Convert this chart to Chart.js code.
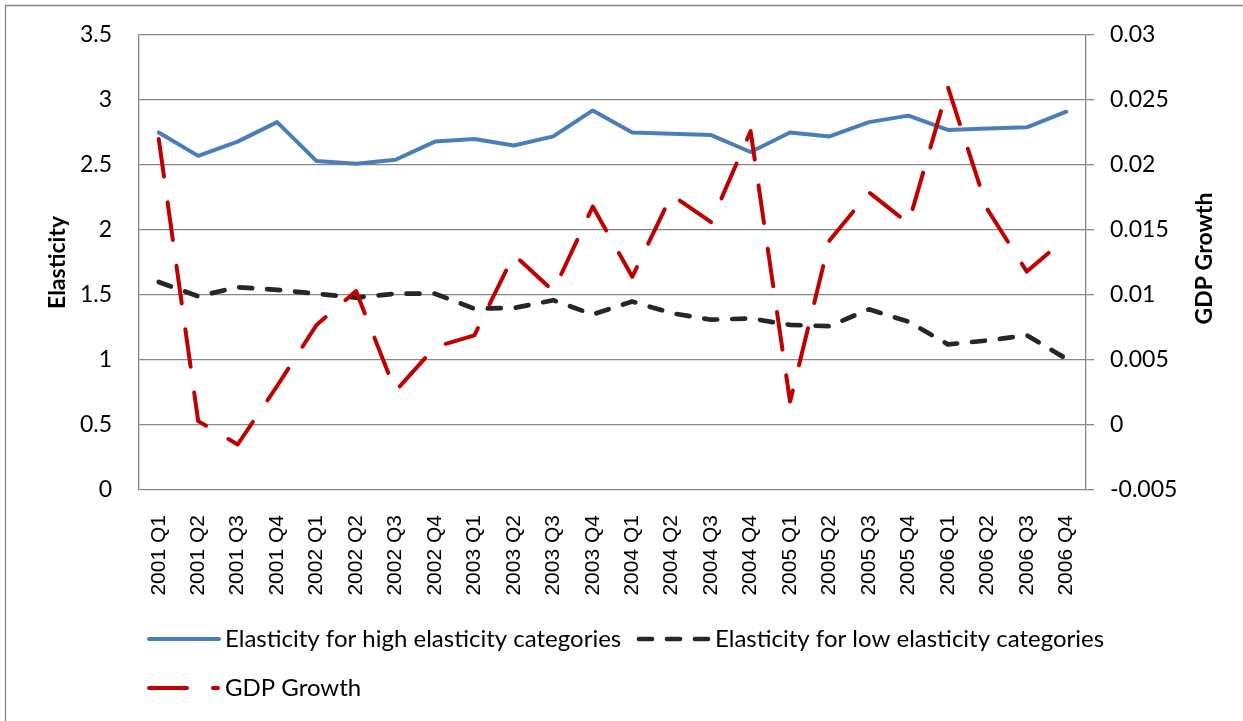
<!DOCTYPE html>
<html>
<head>
<meta charset="utf-8">
<script src="https://cdn.jsdelivr.net/npm/chart.js@4.4.0/dist/chart.umd.min.js"></script>
<style>
  html, body { margin: 0; padding: 0; background: #ffffff; overflow: hidden; }
  canvas { display: block; }
</style>
</head>
<body>
<canvas id="chart" width="1243" height="721"></canvas>
<script>
// Quarterly categories
const quarters = [
  '2001 Q1', '2001 Q2', '2001 Q3', '2001 Q4',
  '2002 Q1', '2002 Q2', '2002 Q3', '2002 Q4',
  '2003 Q1', '2003 Q2', '2003 Q3', '2003 Q4',
  '2004 Q1', '2004 Q2', '2004 Q3', '2004 Q4',
  '2005 Q1', '2005 Q2', '2005 Q3', '2005 Q4',
  '2006 Q1', '2006 Q2', '2006 Q3', '2006 Q4'
];

// Elasticity for high elasticity categories (left axis)
const highElasticity = [
  2.75, 2.57, 2.68, 2.83, 2.53, 2.51, 2.54, 2.68,
  2.70, 2.65, 2.72, 2.92, 2.75, 2.74, 2.73, 2.60,
  2.75, 2.72, 2.83, 2.88, 2.77, 2.78, 2.79, 2.91
];

// Elasticity for low elasticity categories (left axis)
const lowElasticity = [
  1.60, 1.49, 1.56, 1.54, 1.51, 1.48, 1.51, 1.51,
  1.395, 1.40, 1.46, 1.35, 1.45, 1.36, 1.31, 1.32,
  1.27, 1.26, 1.39, 1.295, 1.12, 1.15, 1.19, 1.01
];

// Quarterly GDP growth (right axis)
const gdpGrowth = [
  0.0220, 0.0003, -0.0015, 0.0030, 0.0077, 0.0103, 0.0026, 0.0060,
  0.0069, 0.0131, 0.0103, 0.0168, 0.0114, 0.0177, 0.0156, 0.0226,
  0.0018, 0.0142, 0.0179, 0.0155, 0.0260, 0.0166, 0.0118, 0.0144
];

// Axis tick values
const elasticityTicks = [0, 0.5, 1, 1.5, 2, 2.5, 3, 3.5];
const gdpTicks = [-0.005, 0, 0.005, 0.01, 0.015, 0.02, 0.025, 0.03];

// Series names
const seriesNames = [
  'Elasticity for high elasticity categories',
  'Elasticity for low elasticity categories',
  'GDP Growth'
];

const GRID = '#868686';
const BLUE = '#4A7EBB';
const DARK = '#262626';
const RED = '#C00000';
const TICK_FONT = { family: 'Lato', size: 23 };
const LEGEND_FONT = '24px Lato';

// Outer frame, right-hand axis title and the legend block
const decorations = {
  id: 'decorations',
  beforeDraw(chart) {
    const ctx = chart.ctx;
    ctx.save();
    ctx.strokeStyle = GRID;
    ctx.lineWidth = 1.3;
    ctx.beginPath();
    ctx.moveTo(5.5, 721);
    ctx.lineTo(5.5, 5.5);
    ctx.lineTo(1243, 5.5);
    ctx.stroke();
    ctx.restore();
  },
  afterDraw(chart) {
    const ctx = chart.ctx;
    const area = chart.chartArea;

    // right axis title, reading upward
    ctx.save();
    ctx.fillStyle = '#000';
    ctx.font = 'bold 23px Lato';
    ctx.textAlign = 'center';
    ctx.textBaseline = 'middle';
    ctx.translate(1205, (area.top + area.bottom) / 2 - 4);
    ctx.rotate(-Math.PI / 2);
    ctx.fillText('GDP Growth', 0, 0);
    ctx.restore();

    // legend entries
    const ds = chart.data.datasets;
    const items = [
      { ds: ds[0], x0: 149, x1: 219, y: 639, tx: 225 },
      { ds: ds[1], x0: 639, x1: 708, y: 639, tx: 715 },
      { ds: ds[2], x0: 149, x1: 218, y: 688, tx: 225 }
    ];
    items.forEach(it => {
      ctx.save();
      ctx.strokeStyle = it.ds.borderColor;
      ctx.lineWidth = it.ds.borderWidth;
      ctx.lineCap = 'round';
      ctx.setLineDash(it.ds.borderDash || []);
      ctx.beginPath();
      ctx.moveTo(it.x0, it.y);
      ctx.lineTo(it.x1, it.y);
      ctx.stroke();
      ctx.setLineDash([]);
      ctx.fillStyle = '#000';
      ctx.font = LEGEND_FONT;
      ctx.textAlign = 'left';
      ctx.textBaseline = 'middle';
      ctx.fillText(it.ds.label, it.tx, it.y);
      ctx.restore();
    });
  }
};

new Chart(document.getElementById('chart'), {
  type: 'line',
  data: {
    labels: quarters,
    datasets: [
      {
        label: seriesNames[0],
        data: highElasticity,
        yAxisID: 'y',
        borderColor: BLUE,
        borderWidth: 4,
        borderCapStyle: 'round',
        borderJoinStyle: 'round',
        pointRadius: 0,
        tension: 0,
        order: 2
      },
      {
        label: seriesNames[1],
        data: lowElasticity,
        yAxisID: 'y',
        borderColor: DARK,
        borderWidth: 4.7,
        borderDash: [13, 15],
        borderCapStyle: 'round',
        borderJoinStyle: 'round',
        pointRadius: 0,
        tension: 0,
        order: 1
      },
      {
        label: seriesNames[2],
        data: gdpGrowth,
        yAxisID: 'y1',
        borderColor: RED,
        borderWidth: 4,
        borderDash: [38, 26],
        borderCapStyle: 'round',
        borderJoinStyle: 'round',
        pointRadius: 0,
        tension: 0,
        order: 0
      }
    ]
  },
  options: {
    responsive: false,
    maintainAspectRatio: false,
    devicePixelRatio: 1,
    animation: false,
    layout: { padding: { top: 35, left: 0, right: 0, bottom: 0 } },
    plugins: {
      legend: { display: false },
      tooltip: { enabled: false },
      title: { display: false }
    },
    scales: {
      x: {
        offset: true,
        grid: { display: false },
        border: { display: false },
        ticks: {
          color: '#000',
          font: { family: 'Liberation Sans', size: 21 },
          minRotation: 90,
          maxRotation: 90,
          autoSkip: false,
          padding: 17
        },
        afterFit(scale) { scale.height = 231; }
      },
      y: {
        position: 'left',
        min: 0,
        max: 3.5,
        afterBuildTicks(scale) { scale.ticks = elasticityTicks.map(v => ({ value: v })); },
        grid: { color: GRID, lineWidth: 1.3, drawTicks: false },
        border: { display: true, color: GRID, width: 1.3 },
        ticks: {
          color: '#000',
          font: TICK_FONT,
          padding: 27,
          callback: v => String(v)
        },
        title: {
          display: true,
          text: 'Elasticity',
          color: '#000',
          font: { family: 'Lato', size: 23, weight: 'bold' },
          padding: { top: 44, bottom: 0 }
        },
        afterFit(scale) {
          scale.width = 139;
          scale.paddingTop = 10;
          scale.paddingBottom = 10;
        }
      },
      y1: {
        position: 'right',
        min: -0.005,
        max: 0.03,
        afterBuildTicks(scale) { scale.ticks = gdpTicks.map(v => ({ value: v })); },
        grid: { drawOnChartArea: false, color: GRID, lineWidth: 1.3, drawTicks: true, tickLength: 8 },
        border: { display: true, color: GRID, width: 1.3 },
        ticks: {
          color: '#000',
          font: TICK_FONT,
          padding: 16,
          callback: v => String(v)
        },
        afterFit(scale) {
          scale.width = 157;
          scale.paddingTop = 10;
          scale.paddingBottom = 10;
        }
      }
    }
  },
  plugins: [decorations]
});
</script>
</body>
</html>
